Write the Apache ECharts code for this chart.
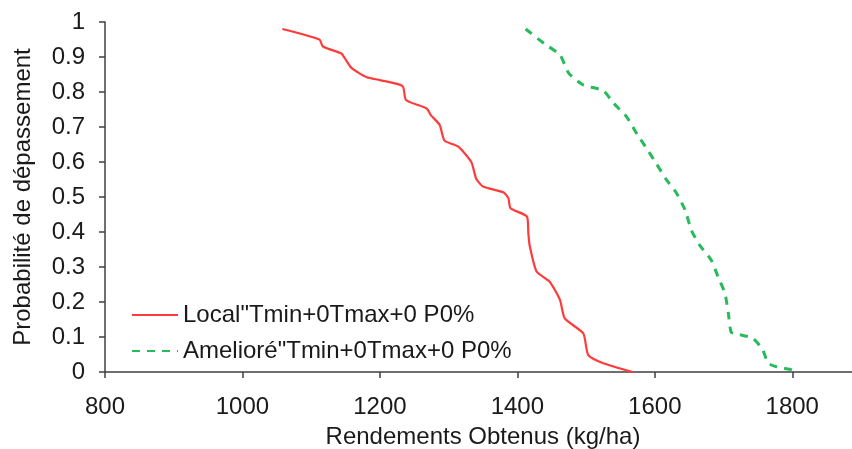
<!DOCTYPE html>
<html>
<head>
<meta charset="utf-8">
<script src="https://cdn.jsdelivr.net/npm/echarts@6/dist/echarts.min.js"></script>
<style>
  html, body { margin: 0; padding: 0; background: #fff; }
  #main { width: 852px; height: 449px; }
</style>
</head>
<body>
<div id="main"></div>
<script>
// valeurs (rendement kg/ha, probabilité)
var localX = [1058, 1112, 1117, 1144, 1149, 1159, 1181, 1200, 1233, 1238, 1268, 1274, 1287, 1294, 1314, 1333, 1340, 1350, 1380, 1387, 1390, 1414, 1416, 1418, 1428, 1447, 1462, 1469, 1496, 1503, 1525, 1568];
var localY = [0.98, 0.95, 0.93, 0.91, 0.896, 0.868, 0.842, 0.834, 0.817, 0.777, 0.753, 0.734, 0.706, 0.661, 0.644, 0.60, 0.553, 0.53, 0.513, 0.496, 0.468, 0.444, 0.396, 0.36, 0.287, 0.258, 0.206, 0.153, 0.11, 0.049, 0.025, 0.0];
var amelX = [1412, 1440, 1462, 1475, 1496, 1525, 1540, 1559, 1575, 1588, 1602, 1617, 1631, 1644, 1653, 1665, 1682, 1692, 1702, 1707, 1711, 1719, 1743, 1757, 1765, 1777, 1799, 1808];
var amelY = [0.98, 0.937, 0.906, 0.853, 0.82, 0.804, 0.768, 0.729, 0.677, 0.639, 0.596, 0.549, 0.513, 0.463, 0.406, 0.363, 0.32, 0.272, 0.225, 0.168, 0.114, 0.109, 0.096, 0.063, 0.025, 0.015, 0.006, 0.0];
var seriesNames = ['Local"Tmin+0Tmax+0 P0%', 'Amelioré"Tmin+0Tmax+0 P0%'];
var xTitle = 'Rendements Obtenus (kg/ha)';
var yTitle = 'Probabilité de dépassement';

function pairs(xs, ys) {
    var out = [];
    for (var i = 0; i < xs.length; i++) {
        out.push([xs[i], ys[i]]);
    }
    return out;
}

var myChart = echarts.init(document.getElementById('main'));
var axisColor = '#404040';
var textColor = '#1a1a1a';
var font = 'Liberation Sans, Arial, sans-serif';

var option = {
    animation: false,
    backgroundColor: '#fff',
    grid: {
        left: 105,
        right: -9,
        top: 22,
        bottom: 77,
        containLabel: false,
        outerBoundsMode: 'none'
    },
    legend: {
        orient: 'vertical',
        left: 126,
        top: 298,
        itemWidth: 46,
        itemHeight: 14,
        itemGap: 12,
        data: seriesNames,
        itemStyle: { opacity: 0 },
        textStyle: { fontSize: 24, color: textColor, fontFamily: font }
    },
    xAxis: {
        type: 'value',
        min: 800,
        max: 1900,
        interval: 200,
        name: xTitle,
        nameLocation: 'middle',
        nameGap: 53,
        nameTextStyle: { fontSize: 24, color: textColor, fontFamily: font },
        splitLine: { show: false },
        axisLine: { lineStyle: { color: axisColor, width: 1.5 } },
        axisTick: { length: 6, lineStyle: { color: axisColor, width: 1.5 } },
        axisLabel: {
            fontSize: 24, color: textColor, fontFamily: font, margin: 23, showMaxLabel: false,
            formatter: function (v) { return String(v); }
        }
    },
    yAxis: {
        type: 'value',
        min: 0,
        max: 1,
        interval: 0.1,
        name: yTitle,
        nameLocation: 'middle',
        nameGap: 70,
        nameTextStyle: { fontSize: 24, color: textColor, fontFamily: font },
        splitLine: { show: false },
        axisLine: { show: true, lineStyle: { color: axisColor, width: 1.5 } },
        axisTick: { show: true, length: 6, lineStyle: { color: axisColor, width: 1.5 } },
        axisLabel: { fontSize: 24, color: textColor, fontFamily: font, margin: 20 }
    },
    series: [
        {
            name: seriesNames[0],
            type: 'line',
            showSymbol: false,
            symbol: 'none',
            smooth: 0.2,
            data: pairs(localX, localY),
            itemStyle: { color: '#ff3b3b' },
            lineStyle: { color: '#ff3b3b', width: 2.2 }
        },
        {
            name: seriesNames[1],
            type: 'line',
            showSymbol: false,
            symbol: 'none',
            smooth: 0.2,
            data: pairs(amelX, amelY),
            itemStyle: { color: '#27bb5c' },
            lineStyle: { color: '#27bb5c', width: 3, type: [8, 7] }
        }
    ]
};
myChart.setOption(option);
</script>
</body>
</html>
